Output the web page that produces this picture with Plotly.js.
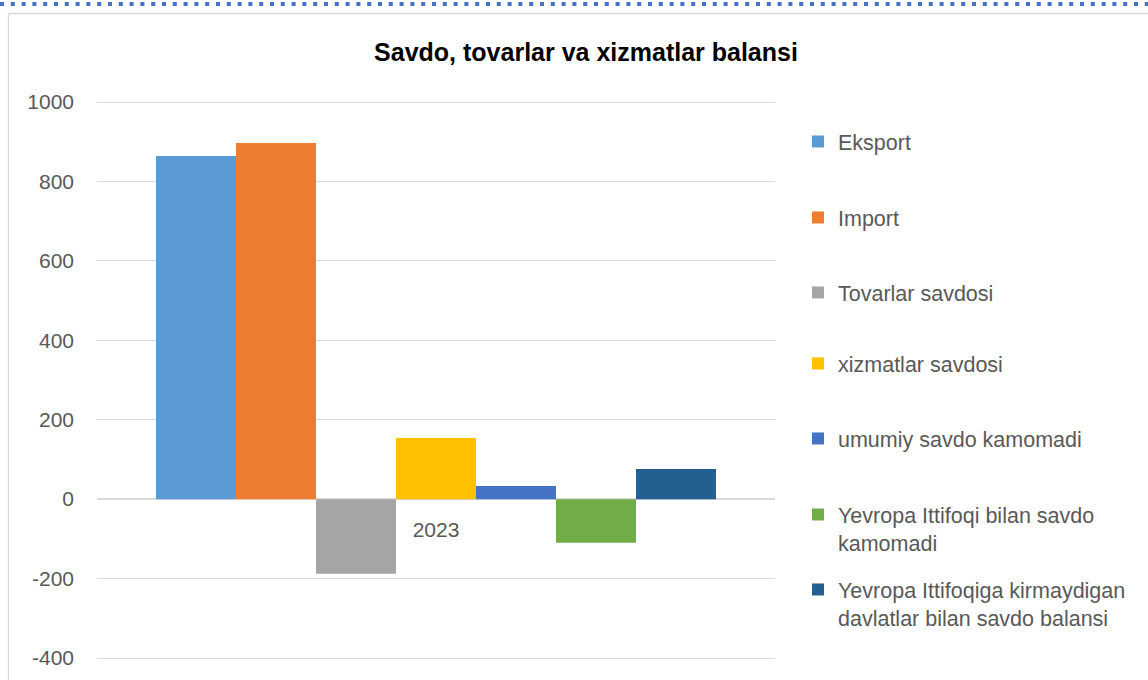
<!DOCTYPE html>
<html>
<head>
<meta charset="utf-8">
<script src="https://cdn.plot.ly/plotly-3.0.1.min.js"></script>
<style>
html,body{margin:0;padding:0;background:#fff;}
#chart{width:1148px;height:680px;}
</style>
</head>
<body>
<div id="chart"></div>
<script>
// ---- data ----
const categories = ['2023'];
const seriesNames = [
  'Eksport',
  'Import',
  'Tovarlar savdosi',
  'xizmatlar savdosi',
  'umumiy savdo kamomadi',
  'Yevropa Ittifoqi bilan savdo<br>kamomadi',
  'Yevropa Ittifoqiga kirmaydigan<br>davlatlar bilan savdo balansi'
];
const eksport = [864];
const importVals = [897];
const tovarlarSavdosi = [-188];
const xizmatlarSavdosi = [154];
const umumiySavdoKamomadi = [33];
const yevropaIttifoqiKamomadi = [-110];
const boshqaDavlatlarBalansi = [76];
const yTickVals = [-400, -200, 0, 200, 400, 600, 800, 1000];
const yTickText = ['-400', '-200', '0', '200', '400', '600', '800', '1000'];
const chartTitle = 'Savdo, tovarlar va xizmatlar balansi';

const seriesValues = [eksport, importVals, tovarlarSavdosi, xizmatlarSavdosi,
  umumiySavdoKamomadi, yevropaIttifoqiKamomadi, boshqaDavlatlarBalansi];
const colors = ['#5B9BD5', '#ED7D31', '#A5A5A5', '#FFC000', '#4472C4', '#70AD47', '#255E91'];

// ---- layout geometry (pixels) ----
const W = 1148, H = 680;
const plotL = 97, plotR = 775, plotT = 100, plotB = 660;
const pw = plotR - plotL, ph = plotB - plotT;
const px2x = p => (p - plotL) / pw;
const py2y = p => (plotB - p) / ph;
// axis range padded by 2px each side so the edge gridlines are drawn
const unitPx = 556 / 1400;
const yMin = -400 - 2 / unitPx, yMax = 1000 + 2 / unitPx;

const FONT = 'Liberation Sans, Arial, sans-serif';
const legendTops = [121, 197, 272, 343, 418, 494, 569];

const traces = seriesValues.map((vals, i) => ({
  type: 'bar',
  name: seriesNames[i],
  x: categories,
  y: vals,
  marker: {color: colors[i], line: {width: 0}},
  legend: i === 0 ? 'legend' : 'legend' + (i + 1),
  hoverinfo: 'name+y'
}));

const layout = {
  width: W, height: H,
  margin: {l: plotL, r: W - plotR, t: plotT, b: H - plotB, pad: 0},
  paper_bgcolor: '#ffffff',
  plot_bgcolor: '#ffffff',
  font: {family: FONT, color: '#595959', size: 21},
  title: {
    text: '<b>' + chartTitle + '</b>',
    font: {family: FONT, size: 25, color: '#000000'},
    x: 586 / W, xref: 'container', xanchor: 'center',
    y: 1 - 52 / H, yref: 'container', yanchor: 'middle'
  },
  barmode: 'group',
  bargap: 0.174,
  bargroupgap: 0,
  xaxis: {
    type: 'category',
    anchor: 'free',
    position: (0 - yMin) / (yMax - yMin),
    showgrid: false,
    showline: false,
    zeroline: false,
    ticks: '',
    ticklabelstandoff: 16,
    tickfont: {family: FONT, size: 21, color: '#595959'}
  },
  yaxis: {
    range: [yMin, yMax],
    tickvals: yTickVals,
    ticktext: yTickText,
    showgrid: true,
    gridcolor: '#d9d9d9',
    gridwidth: 1.3,
    zeroline: true,
    zerolinecolor: '#d9d9d9',
    zerolinewidth: 2,
    showline: false,
    ticks: '',
    ticklabelstandoff: 22,
    tickfont: {family: FONT, size: 21, color: '#595959'}
  },
  shapes: [
    // dotted blue top border
    {type: 'line', xref: 'paper', yref: 'paper',
     x0: px2x(0), x1: px2x(W), y0: py2y(4), y1: py2y(4),
     line: {color: '#4472C4', width: 4, dash: '4px,6.8px'}},
    // chart area border (top)
    {type: 'line', xref: 'paper', yref: 'paper',
     x0: px2x(8.5), x1: px2x(W), y0: py2y(13.5), y1: py2y(13.5),
     line: {color: '#d9d9d9', width: 1.3}},
    // chart area border (left)
    {type: 'line', xref: 'paper', yref: 'paper',
     x0: px2x(8.5), x1: px2x(8.5), y0: py2y(13.5), y1: py2y(H + 5),
     line: {color: '#d9d9d9', width: 1.3}}
  ],
  showlegend: true
};

for (let i = 0; i < 7; i++) {
  const key = i === 0 ? 'legend' : 'legend' + (i + 1);
  layout[key] = {
    x: (798 - plotL) / pw,
    y: py2y(legendTops[i]),
    xanchor: 'left', yanchor: 'top',
    bgcolor: 'rgba(0,0,0,0)',
    borderwidth: 0,
    valign: 'top',
    font: {family: FONT, size: 21.5, color: '#595959'},
    itemclick: false, itemdoubleclick: false
  };
}

Plotly.newPlot('chart', traces, layout, {displayModeBar: false, responsive: false});
</script>
</body>
</html>
